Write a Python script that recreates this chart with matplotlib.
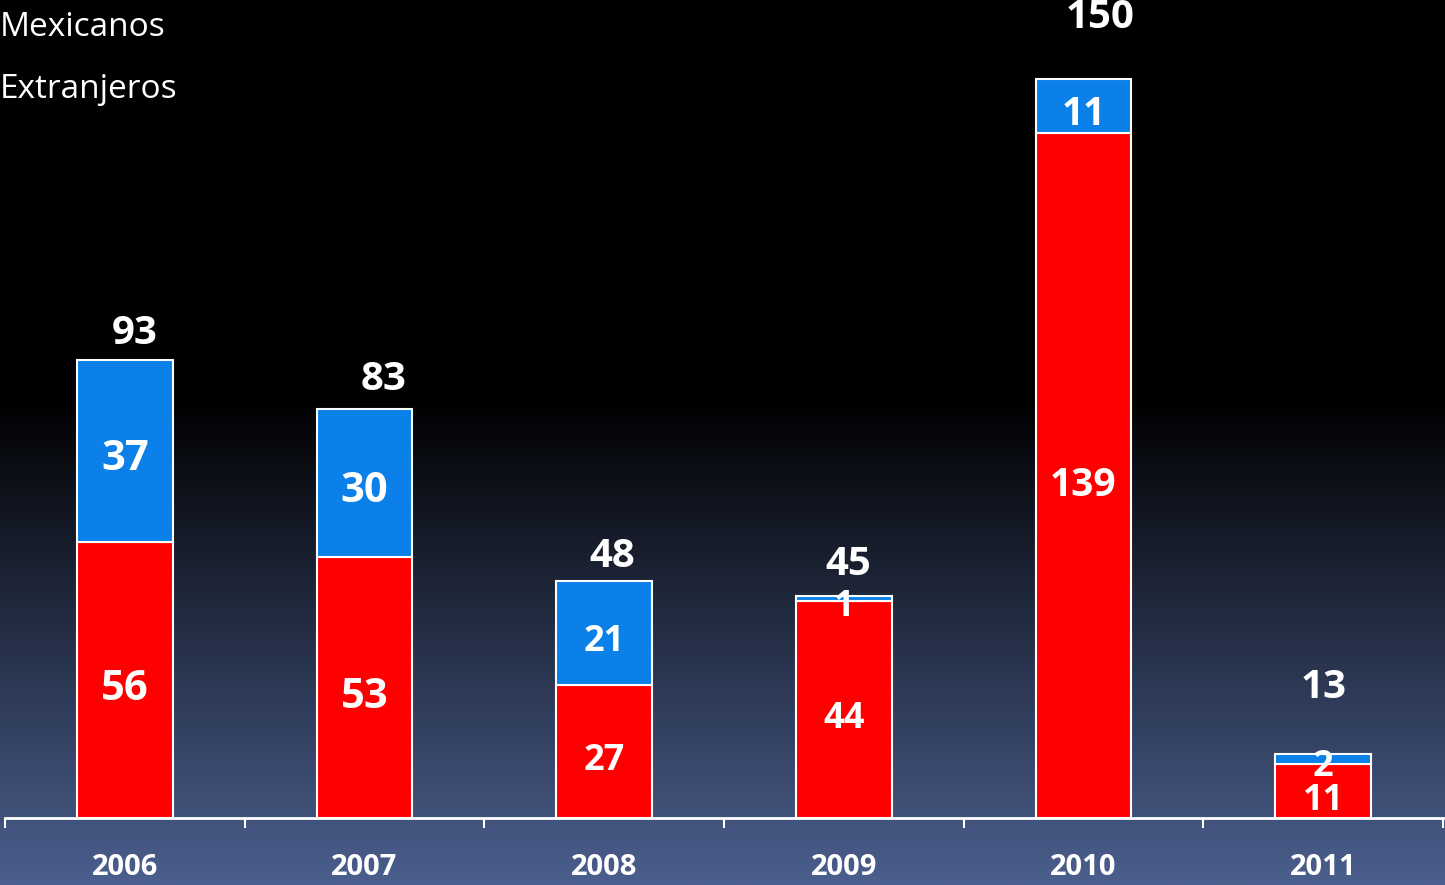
import numpy as np
import matplotlib
matplotlib.use('Agg')
import matplotlib.pyplot as plt
from matplotlib.colors import LinearSegmentedColormap

# datos
anios = ['2006', '2007', '2008', '2009', '2010', '2011']
mexicanos = [56, 53, 27, 44, 139, 11]
extranjeros = [37, 30, 21, 1, 11, 2]
totales = [93, 83, 48, 45, 150, 13]

rojo = '#FF0000'
azul = '#0A80E8'

plt.rcParams['font.family'] = ['Open Sans', 'DejaVu Sans']

fig = plt.figure(figsize=(14.45, 8.85), dpi=100)

# fondo degradado: negro arriba, azul grisaceo abajo
fondo = fig.add_axes([0, 0, 1, 1], zorder=-1)
cmap = LinearSegmentedColormap.from_list('fondo', [(0, '#000000'), (0.45, '#000000'), (1, '#4B5F8E')])
grad = np.linspace(0, 1, 500).reshape(-1, 1)
fondo.imshow(grad, aspect='auto', cmap=cmap, extent=[0, 1, 0, 1], vmin=0, vmax=1)
fondo.axis('off')

ax = fig.add_axes([5 / 1445, 67 / 885, 1438 / 1445, 818 / 885])
ax.patch.set_alpha(0)

x = np.arange(len(anios))
b1 = ax.bar(x, mexicanos, width=0.4, color=rojo, edgecolor='white', linewidth=1.5, zorder=3)
b2 = ax.bar(x, extranjeros, width=0.4, bottom=mexicanos, color=azul, edgecolor='white', linewidth=1.5, zorder=3)

ax.set_xlim(-0.5, 5.5)
ax.set_ylim(0, 166)

for s in ['top', 'right', 'left']:
    ax.spines[s].set_visible(False)
ax.spines['bottom'].set_color('white')
ax.spines['bottom'].set_linewidth(2)
ax.set_yticks([])
ax.set_xticks(np.arange(-0.5, 6, 1))
ax.set_xticklabels([])
ax.tick_params(axis='x', colors='white', length=7, width=1.5, direction='out')
ax.set_xticks(x, minor=True)
ax.set_xticklabels(anios, minor=True, fontsize=21, fontweight='bold', color='white')
ax.tick_params(axis='x', which='minor', length=0, pad=25)

# etiquetas dentro de las barras
tam = [30, 30, 26, 26, 28, 26]
for i in range(len(anios)):
    ax.annotate(str(mexicanos[i]), (x[i], mexicanos[i] / 2), xytext=(0, -7), textcoords='offset points',
                ha='center', va='center', color='white', fontsize=tam[i], fontweight='bold', zorder=5)
    ax.annotate(str(extranjeros[i]), (x[i], mexicanos[i] + extranjeros[i] / 2), xytext=(0, -6),
                textcoords='offset points', ha='center', va='center', color='white',
                fontsize=tam[i], fontweight='bold', zorder=5)

# totales
dx = [7, 14, 6, 3, 12, 0]
dy = [19, 21, 18, 23, 44, 48]
for i in range(len(anios)):
    ax.annotate(str(totales[i]), (x[i], mexicanos[i] + extranjeros[i]), xytext=(dx[i], dy[i]),
                textcoords='offset points', ha='center', va='center', color='white',
                fontsize=29, fontweight='bold')

# leyenda
fig.text(0.0, 1 - 27 / 885, 'Mexicanos', color='white', fontsize=24, ha='left', va='center')
fig.text(0.0, 1 - 90 / 885, 'Extranjeros', color='white', fontsize=24, ha='left', va='center')

fig.savefig('out.png', dpi=100)
